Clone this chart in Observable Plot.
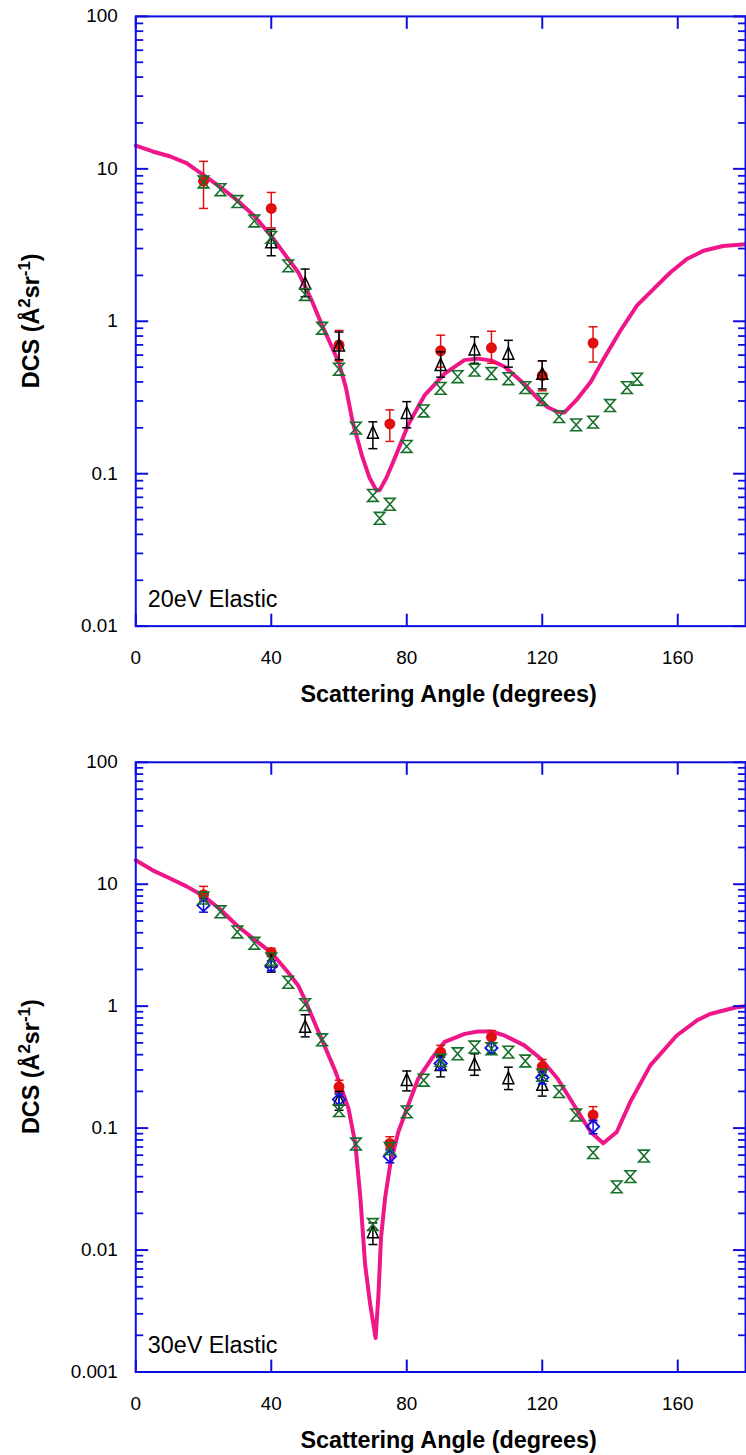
<!DOCTYPE html>
<html><head><meta charset="utf-8">
<script src="https://cdn.jsdelivr.net/npm/d3@7"></script>
<script src="https://cdn.jsdelivr.net/npm/@observablehq/plot@0.6"></script>
<style>
html,body{margin:0;padding:0;background:#fff;overflow:hidden;width:746px;height:1455px}
#wrap{position:relative;width:746px;height:1455px;overflow:hidden}
#wrap svg{position:absolute;left:0}
</style></head><body><div id="wrap"></div>
<script>
// ---------- data: 20 eV ----------
const angles20Theory = [0,5,10,15,20,25,30,35,40,45,48,52,55,58,60,62,64,66.7,69,71,72,74,76.5,80.4,85.3,91.2,97,101,105,108.8,114.7,118.6,121.6,124.5,126.5,130.4,134.3,138.2,143.1,148,152.9,157.8,162.7,167.6,173.4,180];
const dcs20Theory    = [14.2,13.0,12.1,10.9,9.1,7.6,6.2,4.9,3.63,2.56,2.09,1.36,0.94,0.67,0.53,0.37,0.22,0.133,0.094,0.078,0.078,0.094,0.127,0.209,0.328,0.453,0.556,0.569,0.552,0.505,0.388,0.312,0.273,0.255,0.252,0.31,0.40,0.57,0.87,1.27,1.63,2.09,2.56,2.9,3.12,3.2];

const angles20Red = [20,40,60,75,90,105,120,135];
const dcs20Red    = [8.3,5.5,0.70,0.212,0.64,0.67,0.44,0.72];
const lo20Red     = [5.5,4.1,0.55,0.163,0.50,0.53,0.35,0.54];
const hi20Red     = [11.2,7.0,0.87,0.262,0.81,0.86,0.55,0.92];

const angles20Black = [40,50,60,70,80,90,100,110,120];
const dcs20Black    = [3.29,1.76,0.69,0.185,0.249,0.515,0.65,0.61,0.45];
const lo20Black     = [2.69,1.45,0.56,0.146,0.20,0.43,0.53,0.50,0.36];
const hi20Black     = [4.0,2.2,0.85,0.219,0.297,0.63,0.79,0.75,0.55];

const angles20Green = [20,25,30,35,40,45,50,55,60,65,70,72,75,80,85,90,95,100,105,110,115,120,125,130,135,140,145,148];
const dcs20Green    = [8.2,7.3,6.1,4.55,3.55,2.31,1.50,0.90,0.485,0.199,0.072,0.051,0.063,0.151,0.258,0.363,0.433,0.478,0.454,0.42,0.367,0.307,0.237,0.209,0.218,0.28,0.367,0.417];

// ---------- data: 30 eV ----------
const angles30Theory = [0,5,10,15,20,25,30,35,40,45,48,50,54,59,62.8,64.8,66.3,67.7,69.2,70.8,71.6,72.4,73.6,75.1,77.5,80.4,83.4,87.3,91.2,97.1,101,105,108.8,114.7,119.6,124.5,129.4,134.3,138,142,146,151.9,159.7,165.6,169.5,177.3,180];
const dcs30Theory    = [15.7,13.0,11.2,9.6,8.0,6.2,4.54,3.53,2.75,1.89,1.47,1.12,0.61,0.289,0.145,0.075,0.027,0.0076,0.0036,0.0019,0.0041,0.0126,0.0267,0.05,0.093,0.154,0.255,0.37,0.51,0.593,0.62,0.62,0.575,0.477,0.37,0.255,0.154,0.093,0.075,0.093,0.164,0.327,0.575,0.762,0.863,0.98,1.0];

const angles30Red = [20,40,60,75,90,105,120,135];
const dcs30Red    = [8.2,2.75,0.218,0.075,0.42,0.557,0.32,0.128];
const lo30Red     = [7.3,2.55,0.195,0.068,0.38,0.50,0.285,0.112];
const hi30Red     = [9.6,2.98,0.247,0.085,0.477,0.63,0.366,0.15];

const angles30Blue = [20,40,60,75,90,105,120,135];
const dcs30Blue    = [6.73,2.14,0.172,0.0586,0.338,0.454,0.26,0.103];
const lo30Blue     = [5.9,1.95,0.155,0.052,0.30,0.41,0.23,0.09];
const hi30Blue     = [7.6,2.35,0.19,0.066,0.38,0.50,0.29,0.116];

const angles30Black = [40,50,60,70,80,90,100,110,120];
const dcs30Black    = [2.31,0.673,0.17,0.0139,0.247,0.327,0.331,0.255,0.225];
const lo30Black     = [1.9,0.56,0.14,0.0111,0.202,0.263,0.271,0.207,0.183];
const hi30Black     = [2.7,0.85,0.2,0.0167,0.294,0.39,0.407,0.316,0.27];

const angles30Green = [20,25,30,35,40,45,50,55,60,65,70,75,80,85,90,95,100,105,110,115,120,125,130,135,142,146,150];
const dcs30Green    = [7.7,5.94,4.06,3.28,2.43,1.57,1.03,0.53,0.139,0.074,0.0162,0.068,0.136,0.247,0.36,0.407,0.462,0.448,0.42,0.355,0.271,0.199,0.128,0.063,0.033,0.040,0.059];

// ---------- axes ----------
const xTicks = [0,40,80,120,160];
const yTicks20 = [0.01,0.1,1,10,100];
const yTicks30 = [0.001,0.01,0.1,1,10,100];
const xTitle = "Scattering Angle (degrees)";

const PINK="#ee1689", RED="#e01010", BLUE="#0d0de0", GREEN="#16702a", BLACK="#000000";

// ---------- symbols ----------
const rad = s => Math.sqrt(s / Math.PI);
const capSym = {draw(c, s){ const r = rad(s); c.moveTo(-r,0); c.lineTo(r,0); }};
const hourglass = {draw(c, s){ const r = rad(s), h = r*1.12; c.moveTo(-r,-h); c.lineTo(r,-h); c.lineTo(-r,h); c.lineTo(r,h); c.closePath(); }};
const triSym = {draw(c, s){ const r = rad(s); c.moveTo(0,-r*1.25); c.lineTo(r,r*0.95); c.lineTo(-r,r*0.95); c.closePath(); }};
const diaSym = {draw(c, s){ const r = rad(s); c.moveTo(0,-r); c.lineTo(r,0); c.lineTo(0,r); c.lineTo(-r,0); c.closePath(); }};

const rows = (a, v, lo, hi) => a.map((x, i) => ({a: x, v: v[i], lo: lo ? lo[i] : null, hi: hi ? hi[i] : null}));

function errMarks(data, color) {
  return [
    Plot.ruleX(data, {x: "a", y1: "lo", y2: "hi", stroke: color, strokeWidth: 1.5}),
    Plot.dot(data, {x: "a", y: "lo", symbol: capSym, r: 4.5, stroke: color, fill: "none", strokeWidth: 1.5}),
    Plot.dot(data, {x: "a", y: "hi", symbol: capSym, r: 4.5, stroke: color, fill: "none", strokeWidth: 1.5})
  ];
}

function minorTicks(domain) {
  const out = [];
  for (let e = Math.round(Math.log10(domain[0])); e < Math.round(Math.log10(domain[1])); e++)
    for (let k = 2; k <= 9; k++) out.push(k * Math.pow(10, e));
  return out;
}

function panel(cfg) {
  const {height, marginTop, marginBottom, yTicks, theory, red, black, blue, green, label} = cfg;
  const yDomain = [yTicks[0], yTicks[yTicks.length - 1]];
  const minor = minorTicks(yDomain);
  const blank = () => "";
  const marks = [
    Plot.line(theory, {x: "a", y: "v", stroke: PINK, strokeWidth: 4, strokeLinejoin: "round"}),
    ...errMarks(red, RED),
    Plot.dot(red, {x: "a", y: "v", r: 5.5, fill: RED}),
    ...errMarks(black, BLACK),
    Plot.dot(black, {x: "a", y: "v", symbol: triSym, r: 5.5, stroke: BLACK, fill: "none", strokeWidth: 1.5}),
  ];
  if (blue) {
    marks.push(...errMarks(blue, BLUE));
    marks.push(Plot.dot(blue, {x: "a", y: "v", symbol: diaSym, r: 6.2, stroke: BLUE, fill: "none", strokeWidth: 1.8}));
  }
  marks.push(
    Plot.dot(green, {x: "a", y: "v", symbol: hourglass, r: 5.3, stroke: GREEN, fill: "none", strokeWidth: 1.6}),
    Plot.frame({stroke: BLUE, strokeWidth: 2}),
    // y ticks (inward) left & right
    Plot.axisY({anchor: "left", ticks: yTicks, tickSize: -13, tickFormat: blank, stroke: BLUE, strokeWidth: 2, label: null}),
    Plot.axisY({anchor: "left", ticks: minor, tickSize: -8, tickFormat: blank, stroke: BLUE, strokeWidth: 1.8, label: null}),
    Plot.axisY({anchor: "right", ticks: yTicks, tickSize: -13, tickFormat: blank, stroke: BLUE, strokeWidth: 2, label: null}),
    Plot.axisY({anchor: "right", ticks: minor, tickSize: -8, tickFormat: blank, stroke: BLUE, strokeWidth: 1.8, label: null}),
    Plot.axisY({anchor: "left", ticks: yTicks, tickSize: 0, tickPadding: 18, tickFormat: d => String(d), fill: BLACK, label: null}),
    // x ticks (inward) bottom & top
    Plot.axisX({anchor: "bottom", ticks: xTicks, tickSize: -12, tickFormat: blank, stroke: BLUE, strokeWidth: 2, label: null}),
    Plot.axisX({anchor: "top", ticks: xTicks, tickSize: -12, tickFormat: blank, stroke: BLUE, strokeWidth: 2, label: null}),
    Plot.axisX({anchor: "bottom", ticks: xTicks, tickSize: 0, tickPadding: 25, tickFormat: d => String(d), fill: BLACK, label: null}),
    Plot.text([label], {frameAnchor: "bottom-left", dx: 12, dy: -27, textAnchor: "start", lineAnchor: "middle", fontSize: 23.5, fill: BLACK}),
    Plot.text([xTitle], {frameAnchor: "bottom", dx: 8, dy: 69, lineAnchor: "middle", fontSize: 23.5, fontWeight: "bold", fill: BLACK})
  );
  const svg = Plot.plot({
    width: 750, height, marginLeft: 136, marginRight: 1, marginTop, marginBottom,
    style: "font-family: 'Liberation Sans', Arial, Helvetica, sans-serif; font-size: 19px; overflow: visible; background: transparent;",
    x: {domain: [0, 180], axis: null},
    y: {type: "log", domain: yDomain, axis: null},
    marks
  });
  // rotated y-axis title with superscripts
  const cy = marginTop + (height - marginTop - marginBottom) / 2;
  const t = d3.select(svg).append("text")
    .attr("transform", `translate(39,${cy}) rotate(-90)`)
    .attr("text-anchor", "middle")
    .attr("font-family", "'Liberation Sans', Arial, sans-serif")
    .attr("font-weight", "bold").attr("font-size", 23.5).attr("fill", BLACK);
  t.append("tspan").text("DCS (Å");
  t.append("tspan").attr("dy", -9).attr("font-size", 17).text("2");
  t.append("tspan").attr("dy", 9).text("sr");
  t.append("tspan").attr("dy", -9).attr("font-size", 17).text("-1");
  t.append("tspan").attr("dy", 9).text(")");
  return svg;
}

const wrap = document.getElementById("wrap");
const top20 = panel({
  height: 720, marginTop: 16, marginBottom: 91, yTicks: yTicks20,
  theory: rows(angles20Theory, dcs20Theory),
  red: rows(angles20Red, dcs20Red, lo20Red, hi20Red),
  black: rows(angles20Black, dcs20Black, lo20Black, hi20Black),
  blue: null,
  green: rows(angles20Green, dcs20Green),
  label: "20eV Elastic"
});
top20.style.top = "0px";
wrap.appendChild(top20);

const bot30 = panel({
  height: 735, marginTop: 42, marginBottom: 80, yTicks: yTicks30,
  theory: rows(angles30Theory, dcs30Theory),
  red: rows(angles30Red, dcs30Red, lo30Red, hi30Red),
  black: rows(angles30Black, dcs30Black, lo30Black, hi30Black),
  blue: rows(angles30Blue, dcs30Blue, lo30Blue, hi30Blue),
  green: rows(angles30Green, dcs30Green),
  label: "30eV Elastic"
});
bot30.style.top = "720px";
wrap.appendChild(bot30);
</script></body></html>
